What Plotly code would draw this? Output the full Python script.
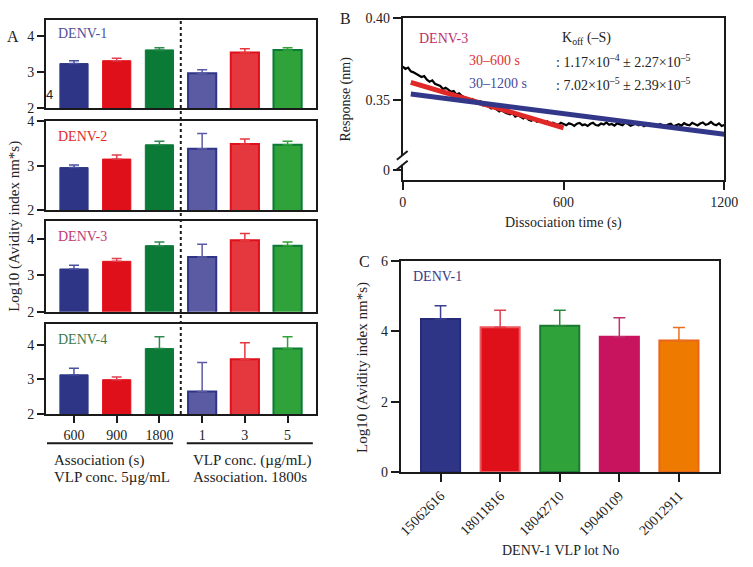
import plotly.graph_objects as go

W, H = 753, 567
def px(x): return x / W
def py(y): return 1 - y / H

FONT = "Liberation Serif"
TXT = "#222222"
AX = "#1a1a1a"

# ---------------- Panel A data ----------------
cats_A = ["600", "900", "1800", "1", "3", "5"]
denv1_vals = [3.24, 3.32, 3.62, 2.97, 3.55, 3.62]
denv1_sd = [0.08, 0.07, 0.06, 0.10, 0.10, 0.06]
denv2_vals = [2.96, 3.15, 3.47, 3.38, 3.49, 3.47]
denv2_sd = [0.06, 0.09, 0.08, 0.34, 0.11, 0.08]
denv3_vals = [3.17, 3.38, 3.81, 3.50, 3.96, 3.81]
denv3_sd = [0.10, 0.08, 0.10, 0.35, 0.18, 0.10]
denv4_vals = [3.13, 2.99, 3.89, 2.65, 3.58, 3.89]
denv4_sd = [0.19, 0.08, 0.34, 0.84, 0.48, 0.34]
panel_names_A = ["DENV-1", "DENV-2", "DENV-3", "DENV-4"]

# ---------------- Panel B data ----------------
time_B = list(range(0, 1201, 10))
resp_B = [0.3705, 0.3691, 0.3699, 0.3676, 0.3670, 0.3661, 0.3654, 0.3642, 0.3648, 0.3626,
          0.3614, 0.3622, 0.3601, 0.3596, 0.3588, 0.3570, 0.3577, 0.3566, 0.3552, 0.3557,
          0.3536, 0.3543, 0.3528, 0.3520, 0.3514, 0.3503, 0.3509, 0.3491, 0.3486, 0.3494,
          0.3470, 0.3475, 0.3466, 0.3452, 0.3459, 0.3448, 0.3434, 0.3442, 0.3428, 0.3421,
          0.3417, 0.3423, 0.3402, 0.3410, 0.3399, 0.3392, 0.3401, 0.3384, 0.3378, 0.3389,
          0.3372, 0.3379, 0.3370, 0.3363, 0.3374, 0.3358, 0.3366, 0.3361, 0.3352, 0.3365,
          0.3355, 0.3350, 0.3362, 0.3357, 0.3347, 0.3360, 0.3364, 0.3351, 0.3356, 0.3346,
          0.3359, 0.3365, 0.3352, 0.3349, 0.3361, 0.3355, 0.3367, 0.3353, 0.3358, 0.3348,
          0.3362, 0.3356, 0.3351, 0.3366, 0.3359, 0.3347, 0.3354, 0.3361, 0.3350, 0.3357,
          0.3345, 0.3353, 0.3362, 0.3349, 0.3356, 0.3343, 0.3358, 0.3351, 0.3346, 0.3355,
          0.3360, 0.3344, 0.3352, 0.3357, 0.3348, 0.3363, 0.3354, 0.3350, 0.3365, 0.3356,
          0.3349, 0.3361, 0.3367, 0.3353, 0.3358, 0.3370, 0.3357, 0.3351, 0.3362, 0.3346,
          0.3352]
fit600_t = [30, 600]
fit600_y = [0.3610, 0.3335]
fit1200_t = [30, 1200]
fit1200_y = [0.3539, 0.3296]
B_ticks_vals = [0.3082, 0.35, 0.40]
B_ticks_text = ["0", "0.35", "0.40"]

# ---------------- Panel C data ----------------
lots_C = ["15062616", "18011816", "18042710", "19040109", "20012911"]
vals_C = [4.35, 4.12, 4.16, 3.85, 3.74]
sd_C = [0.38, 0.48, 0.44, 0.54, 0.37]

# ---------------- styles ----------------
fill_A = ["#2e3586", "#e0101a", "#0b7a36", "#5b5ba3", "#e5383e", "#30a23a"]
line_A = ["#2e3586", "#e0101a", "#0b7a36", "#2e3586", "#e0101a", "#0b7a36"]
err_A = ["#4a52a0", "#e04050", "#2e8a50", "#5b5ba3", "#e5383e", "#30a23a"]
lw_A = [1, 1, 1, 2, 2, 2]
label_col_A = ["#4f4f9c", "#e02a2a", "#c23a74", "#3a7a4e"]
yr_A = [[1.999, 4.46], [1.999, 4.005], [1.999, 4.48], [1.999, 4.59]]
ypix_A = [(13, 104), (117, 209), (220, 313), (326, 418)]
label_y_A = [27, 133, 236, 342]

fill_C = ["#2e3586", "#e0101a", "#2fa33a", "#c8135f", "#ee7b00"]
line_C = ["#262b78", "#ea5a5f", "#1a7a32", "#c8135f", "#e8651a"]
err_C = ["#3a3f8f", "#e04050", "#2a8a3a", "#c03070", "#e87020"]

fig = go.Figure()
layout_axes = {}
annotations = []
shapes = []

tickfont = dict(family=FONT, size=14, color=TXT)

all_A = [(denv1_vals, denv1_sd), (denv2_vals, denv2_sd), (denv3_vals, denv3_sd), (denv4_vals, denv4_sd)]
for i, (vals, sd) in enumerate(all_A):
    n = "" if i == 0 else str(i + 1)
    for j in range(6):
        fig.add_trace(go.Bar(
            x=[cats_A[j]], y=[vals[j]], width=0.66,
            marker=dict(color=fill_A[j], line=dict(color=line_A[j], width=lw_A[j])),
            error_y=dict(type="data", symmetric=False, array=[sd[j]], arrayminus=[0],
                         color=err_A[j], thickness=1.5, width=5),
            xaxis="x" + n, yaxis="y" + n, showlegend=False))
    top, bot = ypix_A[i]
    layout_axes["xaxis" + n] = dict(
        domain=[px(44), px(320)], anchor="y" + n, type="category",
        categoryorder="array", categoryarray=cats_A, range=[-0.655, 5.66],
        showline=True, mirror=True, linecolor=AX, linewidth=2, showgrid=False, zeroline=False,
        ticks="outside" if i == 3 else "", showticklabels=(i == 3),
        ticklen=7, tickwidth=2, tickcolor=AX, tickfont=tickfont)
    layout_axes["yaxis" + n] = dict(
        domain=[py(bot), py(top)], anchor="x" + n, range=yr_A[i],
        tickvals=[2, 3, 4], ticks="outside", ticklen=7, tickwidth=2, tickcolor=AX,
        showline=True, mirror=True, linecolor=AX, linewidth=2, showgrid=False, zeroline=False,
        tickfont=tickfont)
    annotations.append(dict(text=panel_names_A[i], x=px(54), y=py(label_y_A[i]), xref="paper", yref="paper",
                            xanchor="left", yanchor="middle", showarrow=False,
                            font=dict(family=FONT, size=14, color=label_col_A[i])))

# dotted separator through panel A
shapes.append(dict(type="line", xref="x4", yref="paper", x0=2.5, x1=2.5, y0=py(418), y1=py(13),
                   line=dict(color=AX, width=2, dash="dot")))
# underlines for group captions
shapes.append(dict(type="line", xref="paper", yref="paper", x0=px(45), x1=px(174), y0=py(448), y1=py(448),
                   line=dict(color=AX, width=2)))
shapes.append(dict(type="line", xref="paper", yref="paper", x0=px(188), x1=px(317), y0=py(448), y1=py(448),
                   line=dict(color=AX, width=2)))

def ann(text, x, y, size=14, color=TXT, xanchor="left", angle=0, family=FONT):
    annotations.append(dict(text=text, x=px(x), y=py(y), xref="paper", yref="paper",
                            xanchor=xanchor, yanchor="middle", showarrow=False, textangle=angle,
                            font=dict(family=family, size=size, color=color)))

ann("A", 2, 30, size=16)
ann("4", 42, 90, size=13, family="Liberation Sans")
ann("Log10 (Avidity index nm*s)", 11, 225, size=15, xanchor="center", angle=-90)
ann("Association (s)", 50, 466, size=15)
ann("VLP conc. 5µg/mL", 50, 483, size=15)
ann("VLP conc. (µg/mL)", 192, 466, size=15)
ann("Association. 1800s", 192, 483, size=15)

# ---------------- Panel B ----------------
fig.add_trace(go.Scatter(x=time_B, y=resp_B, mode="lines", line=dict(color="black", width=2.2),
                         xaxis="x5", yaxis="y5", showlegend=False))
fig.add_trace(go.Scatter(x=fit600_t, y=fit600_y, mode="lines", line=dict(color="#e02828", width=5),
                         xaxis="x5", yaxis="y5", showlegend=False))
fig.add_trace(go.Scatter(x=fit1200_t, y=fit1200_y, mode="lines", line=dict(color="#33378a", width=5),
                         xaxis="x5", yaxis="y5", showlegend=False))
layout_axes["xaxis5"] = dict(domain=[px(409), px(738)], anchor="y5", range=[0, 1200],
                             tickvals=[0, 600, 1200], ticks="outside", ticklen=8, tickwidth=2, tickcolor=AX,
                             showline=True, mirror=True, linecolor=AX, linewidth=2, showgrid=False,
                             zeroline=False, tickfont=tickfont)
layout_axes["yaxis5"] = dict(domain=[py(178), py(11)], anchor="x5", range=[0.3018, 0.40],
                             tickvals=B_ticks_vals, ticktext=B_ticks_text, ticks="outside", ticklen=8,
                             tickwidth=2, tickcolor=AX, showline=True, mirror=True, linecolor=AX,
                             linewidth=2, showgrid=False, zeroline=False, tickfont=tickfont)
# axis break
shapes.append(dict(type="rect", xref="paper", yref="paper", x0=px(405), x1=px(413), y0=py(162), y1=py(153),
                   fillcolor="white", line=dict(width=0), layer="above"))
shapes.append(dict(type="line", xref="paper", yref="paper", x0=px(403), x1=px(414), y0=py(157), y1=py(148),
                   line=dict(color=AX, width=2), layer="above"))
shapes.append(dict(type="line", xref="paper", yref="paper", x0=px(403), x1=px(414), y0=py(167), y1=py(158),
                   line=dict(color=AX, width=2), layer="above"))

ann("B", 343, 12, size=16)
ann("Response (nm)", 351, 95, size=14, xanchor="center", angle=-90)
ann("Dissociation time (s)", 573, 222, size=14, xanchor="center")
ann("DENV-3", 424, 32, size=14, color="#c0306a")
ann("K<sub>off</sub> (–S)", 570, 32, size=14)
ann("30–600 s", 475, 55, size=14, color="#e03030")
ann(": 1.17×10<sup>–4</sup> ± 2.27×10<sup>–5</sup>", 564, 55, size=14)
ann("30–1200 s", 475, 79, size=14, color="#4a4a9a")
ann(": 7.02×10<sup>–5</sup> ± 2.39×10<sup>–5</sup>", 564, 79, size=14)

# ---------------- Panel C ----------------
for j in range(5):
    fig.add_trace(go.Bar(
        x=[lots_C[j]], y=[vals_C[j]], width=0.656,
        marker=dict(color=fill_C[j], line=dict(color=line_C[j], width=2)),
        error_y=dict(type="data", symmetric=False, array=[sd_C[j]], arrayminus=[0],
                     color=err_C[j], thickness=1.5, width=6),
        xaxis="x6", yaxis="y6", showlegend=False))
layout_axes["xaxis6"] = dict(domain=[px(407), px(733)], anchor="y6", type="category",
                             categoryorder="array", categoryarray=lots_C, range=[-0.667, 4.68],
                             tickangle=-45, ticks="outside", ticklen=8, tickwidth=2, tickcolor=AX,
                             showline=True, mirror=True, linecolor=AX, linewidth=2, showgrid=False,
                             zeroline=False, tickfont=tickfont)
layout_axes["yaxis6"] = dict(domain=[py(477.7), py(261)], anchor="x6", range=[0, 6],
                             tickvals=[0, 2, 4, 6], ticks="outside", ticklen=8, tickwidth=2, tickcolor=AX,
                             showline=True, mirror=True, linecolor=AX, linewidth=2, showgrid=False,
                             zeroline=False, tickfont=tickfont)
ann("C", 362, 261, size=16)
ann("DENV-1", 417, 277, size=14, color="#3a3a8a")
ann("Log10 (Avidity index nm*s)", 367, 370, size=15, xanchor="center", angle=-90)
ann("DENV-1 VLP lot No", 570, 558, size=14, xanchor="center")

fig.update_layout(
    width=W, height=H, margin=dict(l=0, r=0, t=0, b=0),
    paper_bgcolor="white", plot_bgcolor="white", barmode="overlay",
    font=dict(family=FONT, size=14, color=TXT),
    annotations=annotations, shapes=shapes, showlegend=False,
    **layout_axes)

fig.write_html("out.html", config={"displayModeBar": False},
               post_script="document.body.style.margin='0';document.body.style.overflow='hidden';")
